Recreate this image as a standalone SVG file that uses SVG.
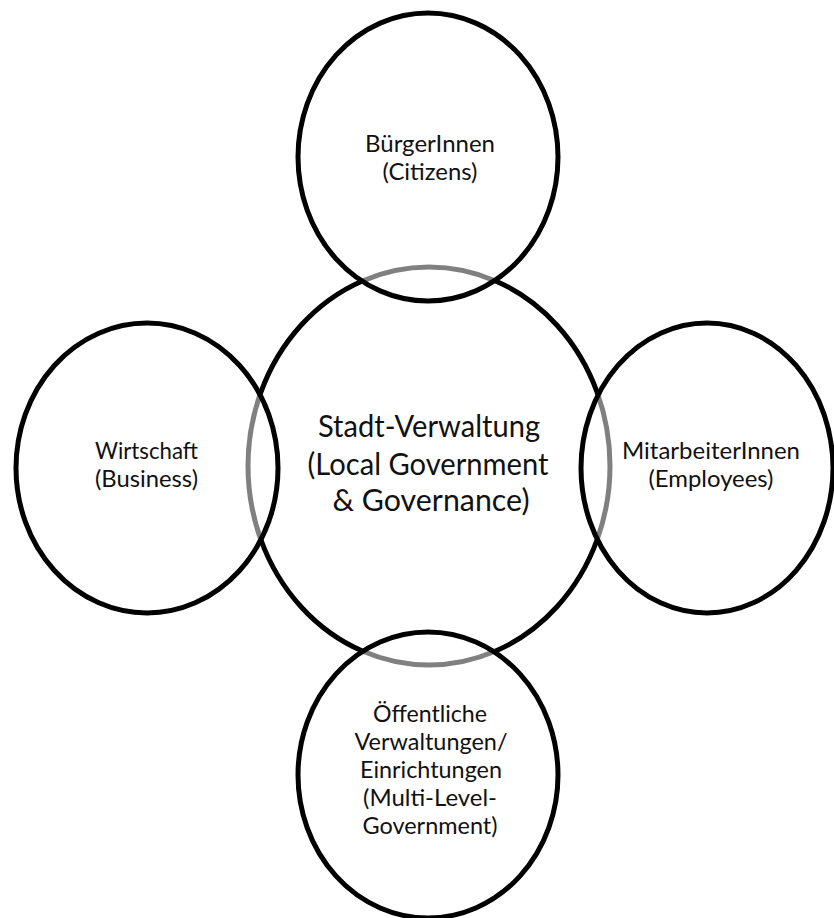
<svg xmlns="http://www.w3.org/2000/svg" width="834" height="918" viewBox="0 0 834 918">
<style>
.c{stroke:#000;stroke-width:5;}
.core{fill:#fff;}
.sat{fill:#fff;fill-opacity:0.5;}
text{font-family:"Lato","Open Sans","Liberation Sans",sans-serif;fill:#111;text-anchor:middle;}
.s{font-size:24px;}
.m{font-size:31px;}
</style>
<rect x="0" y="0" width="834" height="918" fill="#fff"/>
<g id="center-node">
<ellipse class="c core" cx="429" cy="466" rx="181" ry="199"/>
<text class="m" x="429" y="437" textLength="222" lengthAdjust="spacingAndGlyphs">Stadt-Verwaltung</text>
<text class="m" x="428" y="475" textLength="241" lengthAdjust="spacingAndGlyphs">(Local Government</text>
<text class="m" x="431" y="511" textLength="197" lengthAdjust="spacingAndGlyphs">&amp; Governance)</text>
</g>
<g id="top-node">
<ellipse class="c sat" cx="428" cy="157" rx="130" ry="144"/>
<text class="s" x="430" y="152" textLength="130" lengthAdjust="spacingAndGlyphs">BürgerInnen</text>
<text class="s" x="430" y="180" textLength="95" lengthAdjust="spacingAndGlyphs">(Citizens)</text>
</g>
<g id="left-node">
<ellipse class="c sat" cx="147" cy="468" rx="131" ry="145"/>
<text class="s" x="146.5" y="459" textLength="103" lengthAdjust="spacingAndGlyphs">Wirtschaft</text>
<text class="s" x="146.5" y="487" textLength="103" lengthAdjust="spacingAndGlyphs">(Business)</text>
</g>
<g id="right-node">
<ellipse class="c sat" cx="707" cy="468" rx="126" ry="145"/>
<text class="s" x="711" y="459" textLength="178" lengthAdjust="spacingAndGlyphs">MitarbeiterInnen</text>
<text class="s" x="711" y="487" textLength="125" lengthAdjust="spacingAndGlyphs">(Employees)</text>
</g>
<g id="bottom-node">
<ellipse class="c sat" cx="428" cy="775" rx="130" ry="143"/>
<text class="s" x="430" y="722" textLength="114" lengthAdjust="spacingAndGlyphs">Öffentliche</text>
<text class="s" x="431" y="750" textLength="153" lengthAdjust="spacingAndGlyphs">Verwaltungen/</text>
<text class="s" x="431" y="778" textLength="142" lengthAdjust="spacingAndGlyphs">Einrichtungen</text>
<text class="s" x="430" y="806" textLength="134" lengthAdjust="spacingAndGlyphs">(Multi-Level-</text>
<text class="s" x="430" y="834" textLength="135" lengthAdjust="spacingAndGlyphs">Government)</text>
</g>
</svg>
